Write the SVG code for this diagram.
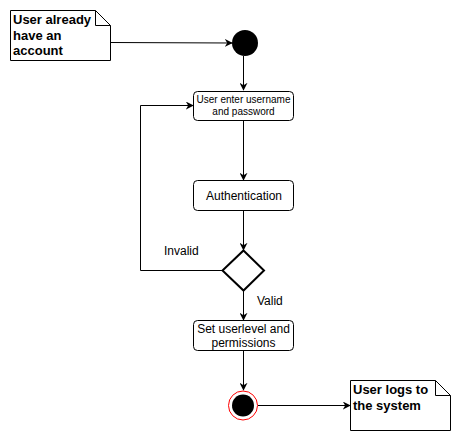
<svg xmlns="http://www.w3.org/2000/svg" width="461" height="441" viewBox="0 0 461 441">
<style>
.note{fill:#fff;stroke:#000;stroke-width:1}
.box{fill:#fff;stroke:#000;stroke-width:1}
.ln{fill:none;stroke:#000;stroke-width:1}
.nt{font-family:"Liberation Sans",Arial,sans-serif;font-size:13px;font-weight:bold;fill:#000}
.t{font-family:"Liberation Sans",Arial,sans-serif;font-size:12px;fill:#000;text-anchor:middle}
.ts{font-family:"Liberation Sans",Arial,sans-serif;font-size:10px;fill:#000;text-anchor:middle}
.lb{font-family:"Liberation Sans",Arial,sans-serif;font-size:12px;fill:#000}
</style>
<defs>
<marker id="ah" viewBox="0 0 10 10" refX="9" refY="5" markerWidth="8" markerHeight="8" markerUnits="userSpaceOnUse" orient="auto">
<path d="M0,0 L10,5 L0,10 L3,5 Z" fill="#000"/>
</marker>
</defs>
<rect width="461" height="441" fill="#fff"/>
<g id="connectors">
<path class="ln" d="M110,42.5 L232,43" marker-end="url(#ah)"/>
<path class="ln" d="M243.5,56 L243.5,90" marker-end="url(#ah)"/>
<path class="ln" d="M243.5,120 L243.5,180" marker-end="url(#ah)"/>
<path class="ln" d="M243.5,210 L243.5,250" marker-end="url(#ah)"/>
<path class="ln" d="M222,270.5 L140.5,270.5 L140.5,105.5 L193,105.5" marker-end="url(#ah)"/>
<path class="ln" d="M243.5,290 L243.5,320" marker-end="url(#ah)"/>
<path class="ln" d="M243.5,350 L243.5,390" marker-end="url(#ah)"/>
<path class="ln" d="M258,405.5 L350,405.5" marker-end="url(#ah)"/>
<text class="lb" x="164" y="255">Invalid</text>
<text class="lb" x="257" y="305">Valid</text>
</g>
<g id="note1">
<path class="note" d="M10.5,10.5 L95.5,10.5 L110.5,25.5 L110.5,60.5 L10.5,60.5 Z"/>
<path class="ln" d="M95.5,10.5 L95.5,25.5 L110.5,25.5"/>
<text class="nt" x="13" y="24">User already</text>
<text class="nt" x="13" y="40">have an</text>
<text class="nt" x="13" y="55">account</text>
</g>
<g id="start">
<circle cx="245" cy="43" r="13" fill="#000"/>
</g>
<g id="enter">
<rect class="box" x="193.5" y="91.5" width="100" height="29" rx="4"/>
<text class="ts" x="243.5" y="103">User enter username</text>
<text class="ts" x="243.5" y="115">and password</text>
</g>
<g id="auth">
<rect class="box" x="193.5" y="180.5" width="100" height="30" rx="4"/>
<text class="t" x="244" y="200">Authentication</text>
</g>
<g id="decision">
<path d="M243.5,250.5 L264,270.5 L243.5,290.5 L222.5,270.5 Z" fill="#fff" stroke="#000" stroke-width="2"/>
</g>
<g id="setlevel">
<rect class="box" x="193.5" y="320.5" width="100" height="30" rx="4"/>
<text class="t" x="243.5" y="333">Set userlevel and</text>
<text class="t" x="243.5" y="347">permissions</text>
</g>
<g id="end">
<circle cx="243" cy="405.5" r="14.5" fill="#fff" stroke="#ff0000" stroke-width="1"/>
<circle cx="243" cy="405.5" r="11" fill="#000"/>
</g>
<g id="note2">
<path class="note" d="M350.5,380.5 L435.5,380.5 L450.5,395.5 L450.5,430.5 L350.5,430.5 Z"/>
<path class="ln" d="M435.5,380.5 L435.5,395.5 L450.5,395.5"/>
<text class="nt" x="353" y="394">User logs to</text>
<text class="nt" x="353" y="410">the system</text>
</g>
</svg>
